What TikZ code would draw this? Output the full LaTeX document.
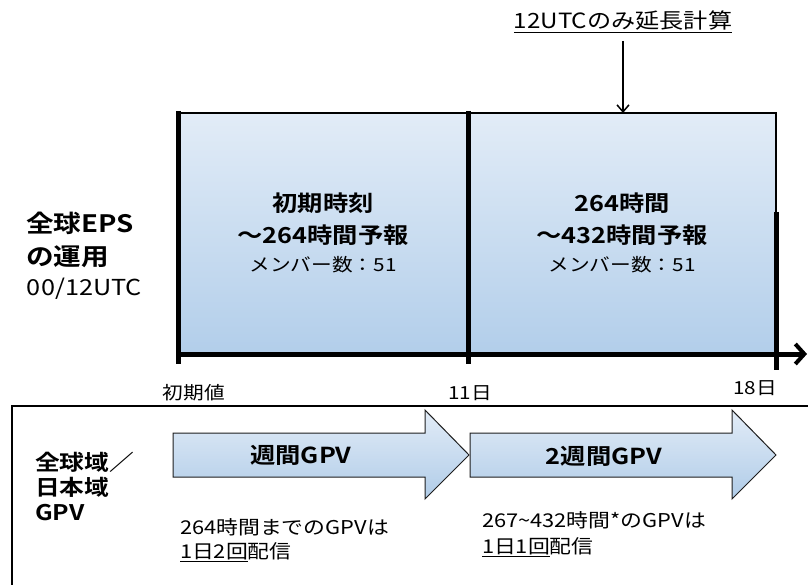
\documentclass[tikz,border=0pt]{standalone}
\usepackage{fontspec}
\setmainfont{Noto Sans CJK JP}[FakeStretch=1.15,BoldFont={Noto Sans CJK JP Bold}]
\usetikzlibrary{arrows.meta}
\definecolor{boxtop}{RGB}{226,236,247}
\definecolor{boxbot}{RGB}{178,206,234}
\definecolor{arrtop}{RGB}{226,236,247}
\definecolor{arrbot}{RGB}{176,204,232}
\definecolor{edge}{RGB}{30,30,30}
\tikzset{
  thickline/.style={line width=5pt,black},
  thinline/.style={line width=1.2pt,black},
  lbl/.style={inner sep=0pt,outer sep=0pt},
  bighead/.style={lbl,font=\fontsize{22}{26}\selectfont\bfseries},
  sidehead/.style={lbl,anchor=west,font=\fontsize{24}{28}\selectfont\bfseries},
  member/.style={lbl,font=\fontsize{18}{22}\selectfont},
  small/.style={lbl,font=\fontsize{19}{23}\selectfont},
  blockarrow/.style={draw=edge,line width=1pt,top color=arrtop,bottom color=arrbot}
}
\begin{document}
\begin{tikzpicture}[x=1pt,y=-1pt]
\useasboundingbox (0,0) rectangle (808,585);
% top label and arrow
\node[lbl,font=\fontsize{21}{25}\selectfont] (toplbl) at (623,22) {\underline{12UTCのみ延長計算}};
\coordinate (boxtopmid) at (623,113);
\draw[line width=1.5pt,-{Straight Barb[length=7pt,width=12pt,line width=1.5pt]}] ([yshift=-8pt]toplbl.south) -- (boxtopmid);
% EPS box
\shade[top color=boxtop,bottom color=boxbot] (178,113) rectangle (776,354);
\coordinate (bl) at (178,113);
\coordinate (br) at (776,113);
\coordinate (brm) at (776,212);
\draw[thinline] (bl) -- (br) -- (brm);
\coordinate (l1) at (178,111);
\coordinate (l2) at (178,364);
\coordinate (m1) at (468,111);
\coordinate (m2) at (468,364);
\coordinate (r1) at (776,212);
\coordinate (r2) at (776,370);
\draw[thickline] (l1) -- (l2);
\draw[thickline] (m1) -- (m2);
\draw[thickline] (r1) -- (r2);
\coordinate (ax0) at (176,354);
\coordinate (ax1) at (807,354);
\draw[thickline,-{Straight Barb[length=9pt,width=20pt,line width=4pt]}] (ax0) -- (ax1);
% box texts
\node[bighead] (a1) at (323,203) {初期時刻};
\node[bighead] (a2) at (323,235) {～264時間予報};
\node[member] (a3) at (323,265) {メンバー数：51};
\node[bighead] (b1) at (622,203) {264時間};
\node[bighead] (b2) at (622,235) {～432時間予報};
\node[member] (b3) at (622,265) {メンバー数：51};
% left labels
\node[sidehead] (e1) at (26,223) {全球EPS};
\node[sidehead] (e2) at (26,257) {の運用};
\node[lbl,anchor=west,font=\fontsize{22}{26}\selectfont] (e3) at (27,289) {00/12UTC};
% axis labels
\node[member] (t0) at (194,393) {初期値};
\node[member] (t1) at (470,393) {11日};
\node[member] (t2) at (755,388) {18日};
% lower frame
\coordinate (f1) at (809,406);
\coordinate (f2) at (12,406);
\coordinate (f3) at (12,586);
\draw[line width=1.5pt] (f1) -- (f2) -- (f3);
% block arrows
\path[blockarrow] (173,433) -- (425,433) -- (425,410) -- (469,455) -- (425,499) -- (425,477) -- (173,477) -- cycle;
\path[blockarrow] (470,433) -- (732,433) -- (732,410) -- (776,455) -- (732,499) -- (732,477) -- (470,477) -- cycle;
\node[bighead] (g1) at (301,455) {週間GPV};
\node[bighead] (g2) at (604,456) {2週間GPV};
% lower left labels
\node[sidehead,font=\fontsize{21.5}{25}\selectfont\bfseries] (d1) at (35,462) {全球域／};
\node[sidehead,font=\fontsize{21.5}{25}\selectfont\bfseries] (d2) at (35,487) {日本域};
\node[sidehead,font=\fontsize{21.5}{25}\selectfont\bfseries] (d3) at (35,513) {GPV};
% notes
\node[small,anchor=west] (n1) at (180,527) {264時間までのGPVは};
\node[small,anchor=west] (n2) at (180,552) {\underline{1日2回}配信};
\node[small,anchor=west] (n3) at (482,520) {267\char`\~432時間*のGPVは};
\node[small,anchor=west] (n4) at (482,547) {\underline{1日1回}配信};
\end{tikzpicture}
\end{document}
